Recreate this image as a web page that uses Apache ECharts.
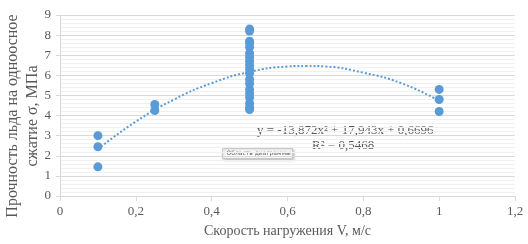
<!DOCTYPE html>
<html>
<head>
<meta charset="utf-8">
<script src="https://cdn.jsdelivr.net/npm/echarts@6/dist/echarts.min.js"></script>
<style>
  html, body { margin: 0; padding: 0; background: #fff; }
  #chart { width: 528px; height: 244px; }
</style>
</head>
<body>
<div id="chart"></div>
<script>
// точки измерений (скорость, прочность)
var pointsX = [0.1, 0.1, 0.1, 0.25, 0.25,
  0.5, 0.5, 0.5, 0.5, 0.5, 0.5, 0.5, 0.5, 0.5, 0.5, 0.5, 0.5, 0.5, 0.5, 0.5, 0.5, 0.5, 0.5, 0.5,
  1, 1, 1];
var pointsY = [3.0, 2.45, 1.45, 4.55, 4.25,
  8.3, 8.2, 7.7, 7.6, 7.4, 7.1, 6.9, 6.7, 6.5, 6.3, 6.1, 5.8, 5.6, 5.3, 5.1, 4.9, 4.6, 4.4, 4.3,
  5.3, 4.8, 4.2];

// полиномиальная линия тренда
var trendX = [0.1, 0.2, 0.3, 0.4, 0.5, 0.6, 0.65, 0.7, 0.8, 0.9, 1.0];
var trendY = [2.33, 3.70, 4.79, 5.61, 6.17, 6.44, 6.47, 6.44, 6.13, 5.61, 4.74];

var xTicks = [0, 0.2, 0.4, 0.6, 0.8, 1, 1.2];

var chart = echarts.init(document.getElementById("chart"));
var font = "'Liberation Serif', 'DejaVu Serif', serif";

var option = {
  animation: false,
  grid: { left: 60, right: 13, top: 15, bottom: 48, containLabel: false, outerBoundsMode: "none" },
  xAxis: {
    type: "value",
    min: 0,
    max: 1.2,
    interval: 0.2,
    name: "Скорость нагружения V, м/с",
    nameLocation: "middle",
    nameGap: 28,
    nameTextStyle: { fontFamily: font, fontSize: 14, color: "#595959" },
    axisLine: { lineStyle: { color: "#d9d9d9" } },
    axisTick: { show: true, lineStyle: { color: "#d9d9d9" } },
    axisLabel: {
      fontFamily: font, fontSize: 13, color: "#595959", margin: 9,
      formatter: function (v) {
        var t = xTicks.find(function (k) { return Math.abs(k - v) < 1e-6; });
        return String(t).replace(".", ",");
      }
    },
    splitLine: { show: false }
  },
  yAxis: {
    type: "value",
    min: 0,
    max: 9,
    interval: 1,
    axisLine: { show: true, lineStyle: { color: "#d9d9d9" } },
    axisTick: { show: true, length: 4, lineStyle: { color: "#d9d9d9" } },
    axisLabel: { fontFamily: font, fontSize: 13, color: "#595959", margin: 9 },
    splitLine: { lineStyle: { color: "#d9d9d9" } },
    minorTick: { show: false, splitNumber: 5 },
    minorSplitLine: { show: true, lineStyle: { color: "#f0f0f0" } }
  },
  series: [
    {
      type: "line",
      data: trendX.map(function (x, i) { return [x, trendY[i]]; }),
      smooth: true,
      symbol: "none",
      lineStyle: { color: "#5b9bd5", width: 2, type: [2, 2] },
      z: 1
    },
    {
      type: "scatter",
      data: pointsX.map(function (x, i) { return [x, pointsY[i]]; }),
      symbol: "circle",
      symbolSize: 9,
      itemStyle: { color: "#5b9bd5", opacity: 1 },
      z: 2
    }
  ],
  graphic: [
    // подпись оси Y (повёрнута, смещена вниз как в оригинале)
    {
      type: "text",
      x: 23,
      y: 116,
      rotation: Math.PI / 2,
      style: {
        text: "Прочность льда на одноосное\nсжатие σ, МПа",
        font: "16px " + font,
        fill: "#595959",
        align: "center",
        verticalAlign: "middle",
        lineHeight: 20
      }
    },
    {
      type: "text",
      left: 257,
      top: 124,
      style: { text: "y = -13,872x² + 17,943x + 0,6696", font: "13px " + font, fill: "#595959" }
    },
    {
      type: "text",
      left: 312,
      top: 139,
      style: { text: "R² = 0,5468", font: "13px " + font, fill: "#595959" }
    },
    {
      type: "group",
      left: 222,
      top: 148,
      children: [
        {
          type: "rect",
          shape: { x: 0, y: 0, width: 70, height: 10 },
          style: { fill: "#fff", stroke: "#c8c8c8", lineWidth: 1, shadowBlur: 3, shadowColor: "rgba(0,0,0,0.3)", shadowOffsetX: 1, shadowOffsetY: 1 }
        },
        {
          type: "text",
          x: 4,
          y: 2,
          style: { text: "Область диаграммы", font: "6px 'DejaVu Sans', sans-serif", fill: "#555" }
        }
      ]
    }
  ]
};

chart.setOption(option);
</script>
</body>
</html>
